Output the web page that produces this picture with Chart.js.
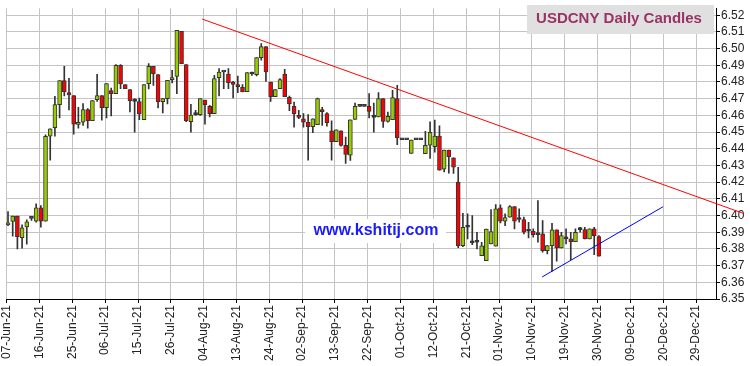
<!DOCTYPE html>
<html><head><meta charset="utf-8">
<script src="https://cdn.jsdelivr.net/npm/chart.js@4.4.1/dist/chart.umd.min.js"></script>
<style>html,body{margin:0;padding:0;background:#fff}#wrap{position:relative;width:750px;height:366px}</style>
</head><body><div id="wrap"><canvas id="c" width="750" height="366"></canvas></div>
<script>
// tick labels (every 7 trading days)
const tickLabels = ["07-Jun-21","16-Jun-21","25-Jun-21","06-Jul-21","15-Jul-21","26-Jul-21","04-Aug-21","13-Aug-21","24-Aug-21","02-Sep-21","13-Sep-21","22-Sep-21","01-Oct-21","12-Oct-21","21-Oct-21","01-Nov-21","10-Nov-21","19-Nov-21","30-Nov-21","09-Dec-21","20-Dec-21","29-Dec-21"];
const tickDays = [0,7,14,21,28,35,42,49,56,63,70,77,84,91,98,105,112,119,126,133,140,147];
const yTicks = [6.35,6.36,6.37,6.38,6.39,6.40,6.41,6.42,6.43,6.44,6.45,6.46,6.47,6.48,6.49,6.50,6.51,6.52];

// daily candles (trading-day index = position)
const open = [6.3944,6.3964,6.3996,6.3868,6.3932,6.3983,6.3966,6.4046,6.3966,6.4476,
6.4526,6.4664,6.4808,6.4736,6.4718,6.4546,6.4560,6.4634,6.4568,6.4694,
6.4718,6.4646,6.4748,6.4730,6.4900,6.4784,6.4754,6.4684,6.4682,6.4574,
6.4790,6.4894,6.4844,6.4682,6.4700,6.4814,6.4834,6.5104,6.4904,6.4562,
6.4604,6.4604,6.4692,6.4654,6.4610,6.4826,6.4860,6.4848,6.4788,6.4776,
6.4768,6.4742,6.4848,6.4844,6.4946,6.5012,6.4800,6.4712,6.4760,6.4848,
6.4708,6.4654,6.4600,6.4580,6.4558,6.4532,6.4544,6.4634,6.4610,6.4508,
6.4442,6.4508,6.4420,6.4362,6.4576,6.4654,6.4654,6.4654,6.4588,6.4590,
6.4700,6.4564,6.4574,6.4700,6.4454,6.4454,6.4372,6.4454,6.4454,6.4370,
6.4422,6.4412,6.4476,6.4277,6.4392,6.4346,6.4199,6.3819,6.3930,6.3836,
6.3840,6.3759,6.3729,6.3830,6.3816,6.4046,6.3966,6.3990,6.4054,6.3976,
6.3976,6.3906,6.3906,6.3886,6.3890,6.3790,6.3820,6.3914,6.3806,6.3860,
6.3860,6.3844,6.3916,6.3916,6.3860,6.3920,6.3874];
const high = [6.4024,6.3996,6.3996,6.3944,6.3974,6.3983,6.4070,6.4060,6.4484,6.4520,
6.4714,6.4808,6.4894,6.4822,6.4718,6.4648,6.4670,6.4640,6.4688,6.4846,
6.4718,6.4790,6.4764,6.4904,6.4904,6.4784,6.4754,6.4700,6.4704,6.4784,
6.4910,6.4894,6.4844,6.4700,6.4810,6.4870,6.5110,6.5104,6.4904,6.4666,
6.4630,6.4700,6.4692,6.4660,6.4840,6.4880,6.4860,6.4880,6.4804,6.4836,
6.4784,6.4856,6.4860,6.4946,6.5030,6.5012,6.4800,6.4754,6.4820,6.4876,
6.4716,6.4680,6.4630,6.4610,6.4604,6.4580,6.4704,6.4648,6.4616,6.4568,
6.4514,6.4508,6.4470,6.4574,6.4674,6.4654,6.4654,6.4730,6.4674,6.4736,
6.4700,6.4620,6.4750,6.4780,6.4454,6.4454,6.4452,6.4454,6.4454,6.4504,
6.4562,6.4572,6.4538,6.4392,6.4392,6.4346,6.4289,6.4013,6.4010,6.4000,
6.3900,6.3839,6.3919,6.4036,6.4066,6.4064,6.4010,6.4060,6.4054,6.4040,
6.3990,6.3960,6.3920,6.4090,6.3970,6.3820,6.3954,6.3914,6.3900,6.3920,
6.3900,6.3920,6.3930,6.3930,6.3920,6.3930,6.3880];
const low = [6.3940,6.3876,6.3800,6.3804,6.3828,6.3971,6.3960,6.3930,6.3966,6.4332,
6.4476,6.4584,6.4716,6.4632,6.4488,6.4524,6.4540,6.4524,6.4568,6.4684,
6.4572,6.4584,6.4596,6.4730,6.4760,6.4760,6.4620,6.4500,6.4574,6.4574,
6.4758,6.4780,6.4644,6.4614,6.4668,6.4794,6.4730,6.4910,6.4562,6.4500,
6.4600,6.4600,6.4548,6.4590,6.4610,6.4716,6.4760,6.4760,6.4704,6.4736,
6.4740,6.4742,6.4840,6.4836,6.4930,6.4804,6.4684,6.4712,6.4760,6.4712,
6.4628,6.4530,6.4580,6.4530,6.4332,6.4496,6.4544,6.4540,6.4536,6.4332,
6.4442,6.4416,6.4312,6.4330,6.4576,6.4654,6.4654,6.4584,6.4500,6.4590,
6.4528,6.4560,6.4574,6.4424,6.4454,6.4454,6.4372,6.4454,6.4454,6.4370,
6.4342,6.4380,6.4272,6.4262,6.4254,6.4253,6.3807,6.3813,6.3860,6.3826,
6.3800,6.3759,6.3729,6.3830,6.3816,6.3956,6.3940,6.3990,6.3920,6.3960,
6.3890,6.3866,6.3870,6.3840,6.3780,6.3770,6.3666,6.3726,6.3806,6.3830,
6.3736,6.3844,6.3900,6.3860,6.3860,6.3766,6.3756];
const close = [6.3954,6.3996,6.3874,6.3926,6.3962,6.3983,6.4046,6.3966,6.4474,6.4520,
6.4664,6.4808,6.4742,6.4722,6.4548,6.4552,6.4634,6.4568,6.4688,6.4718,
6.4646,6.4790,6.4730,6.4900,6.4788,6.4760,6.4688,6.4684,6.4608,6.4784,
6.4894,6.4850,6.4682,6.4700,6.4810,6.4826,6.5110,6.4910,6.4568,6.4602,
6.4604,6.4700,6.4664,6.4610,6.4820,6.4860,6.4860,6.4796,6.4786,6.4772,
6.4742,6.4856,6.4848,6.4946,6.5012,6.4860,6.4712,6.4754,6.4814,6.4712,
6.4668,6.4610,6.4588,6.4560,6.4532,6.4580,6.4700,6.4622,6.4556,6.4442,
6.4514,6.4420,6.4366,6.4574,6.4654,6.4654,6.4654,6.4624,6.4588,6.4700,
6.4564,6.4594,6.4706,6.4466,6.4454,6.4454,6.4452,6.4454,6.4454,6.4420,
6.4498,6.4476,6.4272,6.4392,6.4352,6.4289,6.3819,6.3930,6.3930,6.3836,
6.3840,6.3819,6.3919,6.3904,6.4040,6.3966,6.3988,6.4054,6.3966,6.3976,
6.3900,6.3906,6.3886,6.3886,6.3790,6.3820,6.3914,6.3806,6.3880,6.3860,
6.3844,6.3900,6.3916,6.3860,6.3920,6.3880,6.3756];

// trend lines (day index, price)
const redTrendX = [41.4, 156.8];
const redTrendY = [6.5177, 6.4013];
const blueTrendX = [113.9, 139.7];
const blueTrendY = [6.3632, 6.4053];

const UP = '#99cc00', DOWN = '#ff0000', EDGE = '#333333', GRID = '#c4c4c4';

const bodies = open.map((o, i) => ({x: i, y: [o, close[i]]}));
const wicks = open.map((o, i) => ({x: i, y: [low[i], high[i]]}));
const bodyColors = open.map((o, i) => close[i] > o ? UP : (close[i] < o ? DOWN : EDGE));

const decor = {
  id: 'decor',
  afterDraw(chart) {
    const ctx = chart.ctx;
    ctx.save();
    // title box
    ctx.fillStyle = '#e0e0e0';
    ctx.fillRect(527, 5, 187, 29);
    ctx.fillStyle = '#993366';
    ctx.font = 'bold 15px "Liberation Sans", Arial, sans-serif';
    ctx.textAlign = 'center';
    ctx.textBaseline = 'middle';
    ctx.fillText('USDCNY Daily Candles', 619, 19);
    // watermark
    ctx.fillStyle = '#ffffff';
    ctx.fillRect(305, 219, 141, 24);
    ctx.fillStyle = '#1a1aff';
    ctx.font = 'bold 16px "Liberation Sans", Arial, sans-serif';
    ctx.fillText('www.kshitij.com', 376, 231);
    ctx.restore();
  }
};

new Chart(document.getElementById('c'), {
  type: 'bar',
  data: {
    datasets: [
      {type: 'line', data: redTrendX.map((x, i) => ({x, y: redTrendY[i]})), borderColor: '#ff0000', borderWidth: 1,
       pointRadius: 0, tension: 0, clip: false, order: -2},
      {type: 'line', data: blueTrendX.map((x, i) => ({x, y: blueTrendY[i]})), borderColor: '#0000ff', borderWidth: 1,
       pointRadius: 0, tension: 0, order: -1},
      {data: bodies, backgroundColor: bodyColors, borderColor: EDGE, borderWidth: 1, borderSkipped: false,
       barThickness: 4, minBarLength: 2, grouped: false, order: 0},
      {data: wicks, backgroundColor: EDGE, borderWidth: 0, barThickness: 1, grouped: false, order: 1}
    ]
  },
  options: {
    responsive: false, animation: false, devicePixelRatio: 1,
    layout: {padding: {left: 6, top: 8, right: 0, bottom: 0}},
    plugins: {legend: {display: false}, tooltip: {enabled: false}, title: {display: false}},
    scales: {
      x: {
        type: 'linear', min: -0.43, max: 150.97, offset: false,
        grid: {color: GRID, tickColor: '#000', tickLength: 4, offset: false},
        border: {color: '#000'},
        afterBuildTicks: ax => { ax.ticks = tickDays.map(d => ({value: d - 0.28})); },
        afterFit: ax => { ax.height = 67; },
        ticks: {autoSkip: false, maxRotation: 90, minRotation: 90, padding: 2, color: '#222',
          font: {family: '"Liberation Sans", Arial, sans-serif', size: 12},
          callback: (v, i) => tickLabels[i]}
      },
      y: {
        type: 'linear', position: 'right', min: 6.35, max: 6.5242,
        grid: {color: GRID, tickColor: '#000', tickLength: 4},
        border: {color: '#000'},
        afterBuildTicks: ax => { ax.ticks = yTicks.map(v => ({value: v})); },
        afterFit: ax => { ax.width = 34; },
        ticks: {autoSkip: false, padding: 1, color: '#222', font: {family: '"Liberation Sans", Arial, sans-serif', size: 12},
          callback: v => v.toFixed(2)}
      }
    }
  },
  plugins: [decor]
});
</script>
</body></html>
